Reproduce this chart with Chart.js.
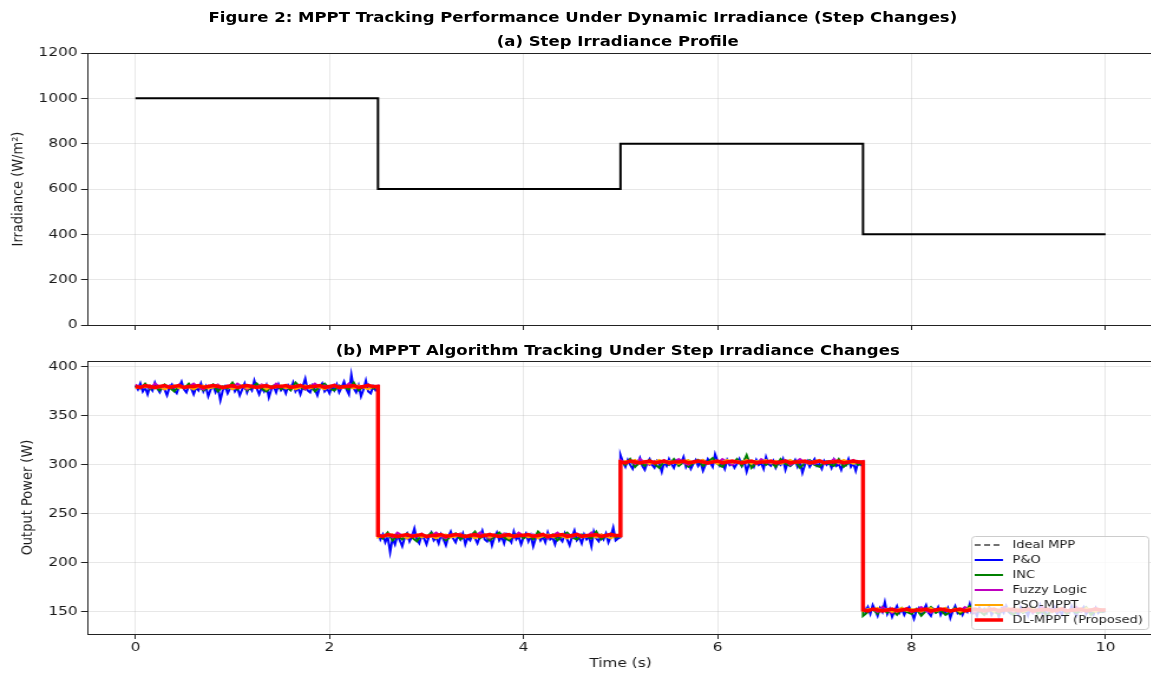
<!DOCTYPE html>
<html>
<head>
<meta charset="utf-8">
<script src="https://cdn.jsdelivr.net/npm/chart.js@4.4.1/dist/chart.umd.min.js"></script>
<style>
html, body { margin: 0; padding: 0; background: #fff; overflow: hidden; width: 1151px; height: 673px; }
#wrap { position: absolute; left: 0; top: 0; width: 1051px; height: 673px; transform: scaleX(1.18); transform-origin: 0 0; }
.ttl { position: absolute; left: 0; text-align: center; font: bold 14px "DejaVu Sans"; line-height: 16px; color: #000; white-space: nowrap; }
#suptitle { top: 9px; width: 988px; }
#titleA { top: 33px; width: 1047px; }
#titleB { top: 342px; width: 1047px; }
#irrChart { position: absolute; left: 0; top: 0; }
#powChart { position: absolute; left: 0; top: 335px; }
</style>
</head>
<body>
<div id="wrap">
  <canvas id="irrChart" width="1051" height="340"></canvas>
  <canvas id="powChart" width="1051" height="338"></canvas>
  <div class="ttl" id="suptitle">Figure 2: MPPT Tracking Performance Under Dynamic Irradiance (Step Changes)</div>
  <div class="ttl" id="titleA">(a) Step Irradiance Profile</div>
  <div class="ttl" id="titleB">(b) MPPT Algorithm Tracking Under Step Irradiance Changes</div>
</div>
<script>
// step profile
const stepTimes = [0, 2.5, 5, 7.5, 10];
const irradiance = [1000, 600, 800, 400];
const idealMpp = [380, 228, 304, 152];

// sampled output power: 4 segments, each sampled evenly from its step start to the next step
const segStart = [0, 2.5, 5, 7.5];
const segLen = 2.5;

// P&O: 101 samples per segment
const pnoPower = [
  381, 377, 383, 375, 379, 372, 380, 376, 384, 378, 374, 380, 377, 371, 379, 382, 376, 373, 380, 385,
  377, 374, 381, 378, 372, 379, 376, 383, 375, 380, 370, 377, 381, 374, 379, 366, 376, 380, 373, 378,
  382, 375, 379, 371, 377, 383, 374, 380, 376, 386, 378, 372, 379, 375, 381, 369, 377, 380, 374, 382,
  376, 379, 373, 381, 377, 384, 375, 379, 372, 380, 388, 376, 374, 381, 377, 371, 379, 383, 375, 378,
  373, 380, 376, 382, 374, 379, 385, 377, 372, 392, 378, 374, 381, 370, 377, 386, 375, 373, 380, 376, 378,
  232, 224, 229, 221, 227, 211, 225, 219, 228, 223, 217, 226, 230, 222, 227, 235, 224, 220, 228, 225,
  219, 227, 231, 223, 226, 220, 229, 224, 218, 227, 232, 225, 221, 228, 224, 230, 219, 226, 223, 229,
  225, 220, 227, 233, 224, 222, 228, 218, 226, 231, 223, 227, 220, 229, 225, 221, 232, 224, 227, 219,
  226, 230, 222, 228, 217, 225, 229, 223, 227, 221, 231, 224, 226, 219, 228, 225, 222, 230, 224, 218,
  227, 233, 223, 226, 220, 229, 224, 227, 217, 232, 225, 222, 228, 224, 230, 221, 227, 236, 223, 225, 226,
  310, 303, 298, 305, 300, 296, 304, 301, 307, 299, 295, 302, 306, 300, 297, 304, 301, 293, 303, 299,
  306, 301, 297, 304, 300, 302, 308, 298, 303, 296, 301, 305, 299, 303, 294, 300, 306, 302, 298, 311,
  304, 299, 302, 296, 305, 300, 303, 297, 301, 306, 299, 304, 293, 301, 303, 298, 305, 300, 302, 296,
  308, 301, 299, 304, 297, 302, 300, 306, 295, 303, 299, 301, 305, 298, 303, 292, 300, 304, 298, 302,
  306, 299, 301, 296, 304, 300, 303, 297, 305, 299, 301, 295, 303, 300, 306, 298, 302, 294, 303, 300, 302,
  159, 150, 155, 148, 157, 152, 146, 154, 150, 160, 148, 153, 145, 151, 156, 149, 153, 147, 152, 155,
  150, 143, 151, 154, 148, 152, 157, 149, 146, 153, 150, 155, 147, 152, 149, 154, 144, 151, 156, 149,
  152, 147, 153, 150, 158, 148, 151, 146, 154, 150, 153, 149, 155, 147, 151, 152, 145, 153, 149, 156,
  150, 148, 153, 151, 147, 155, 150, 152, 146, 154, 149, 153, 150, 157, 148, 151, 145, 153, 150, 155,
  148, 152, 147, 154, 151, 149, 156, 150, 146, 153, 151, 155, 148, 152, 150, 147, 154, 149, 152, 150, 151
];
// the others: 51 samples per segment
const incPower = [
  381, 378, 383, 377, 380, 376, 382, 379, 375, 381, 378, 383, 377, 380, 376, 379, 382, 375, 380, 378,
  384, 377, 381, 376, 379, 383, 378, 375, 380, 382, 377, 380, 376, 384, 379, 377, 381, 375, 380, 383,
  378, 376, 381, 379, 377, 384, 376, 380, 382, 378, 380,
  229, 225, 231, 223, 228, 224, 230, 226, 222, 229, 226, 231, 225, 228, 223, 227, 230, 224, 228, 226,
  232, 225, 229, 223, 227, 231, 226, 223, 228, 230, 225, 228, 224, 232, 227, 225, 229, 223, 228, 231,
  226, 224, 229, 227, 225, 232, 224, 228, 230, 226, 228,
  304, 300, 306, 298, 303, 299, 305, 301, 297, 304, 300, 306, 299, 303, 298, 302, 305, 299, 303, 307,
  301, 298, 304, 300, 306, 299, 310, 297, 302, 305, 300, 303, 298, 306, 301, 299, 304, 297, 302, 305,
  300, 298, 303, 301, 299, 306, 298, 302, 304, 300, 302,
  146, 150, 153, 148, 155, 149, 152, 147, 154, 150, 148, 153, 146, 151, 155, 149, 152, 147, 150, 154,
  148, 152, 156, 149, 151, 147, 153, 150, 148, 155, 151, 147, 153, 149, 152, 155, 148, 151, 146, 153,
  150, 154, 148, 152, 149, 151, 155, 147, 152, 150, 151
];
const fuzzyPower = [
  382, 379, 381, 378, 383, 380, 377, 381, 379, 382, 378, 380, 383, 379, 377, 381, 380, 382, 378, 381,
  379, 383, 380, 377, 381, 379, 382, 380, 378, 383, 380, 378, 381, 379, 382, 377, 380, 383, 379, 381,
  378, 382, 380, 379, 383, 378, 381, 380, 382, 379, 381,
  230, 227, 229, 226, 231, 228, 225, 229, 227, 230, 226, 228, 231, 227, 225, 229, 228, 230, 226, 229,
  227, 231, 228, 225, 229, 227, 230, 228, 226, 231, 228, 226, 229, 227, 230, 225, 228, 231, 227, 229,
  226, 230, 228, 227, 231, 226, 229, 228, 230, 227, 229,
  305, 302, 304, 301, 306, 303, 300, 304, 302, 305, 301, 303, 306, 302, 300, 304, 303, 305, 301, 304,
  302, 306, 303, 300, 304, 302, 305, 303, 301, 306, 303, 301, 304, 302, 305, 300, 303, 306, 302, 304,
  301, 305, 303, 302, 306, 301, 304, 303, 305, 302, 304,
  154, 151, 153, 150, 155, 152, 149, 153, 151, 154, 150, 152, 155, 151, 149, 153, 152, 154, 150, 153,
  151, 155, 152, 149, 153, 151, 154, 152, 150, 155, 152, 150, 153, 151, 154, 149, 152, 155, 151, 153,
  150, 154, 152, 151, 155, 150, 153, 152, 154, 151, 153
];
const psoPower = [
  378, 380, 379, 381, 378, 380, 377, 379, 381, 378, 380, 379, 377, 380, 381, 378, 379, 381, 378, 380,
  377, 379, 381, 378, 380, 379, 381, 377, 380, 379, 381, 378, 380, 377, 379, 381, 378, 380, 379, 377,
  380, 381, 378, 379, 380, 378, 381, 379, 377, 380, 379,
  226, 228, 227, 229, 226, 228, 225, 227, 229, 226, 228, 227, 225, 228, 229, 226, 227, 229, 226, 228,
  225, 227, 229, 226, 228, 227, 229, 225, 228, 227, 229, 226, 228, 225, 227, 229, 226, 228, 227, 225,
  228, 229, 226, 227, 228, 226, 229, 227, 225, 228, 227,
  302, 304, 303, 305, 302, 304, 301, 303, 305, 302, 304, 303, 301, 304, 305, 302, 303, 305, 302, 304,
  301, 303, 305, 302, 304, 303, 305, 301, 304, 303, 305, 302, 304, 301, 303, 305, 302, 304, 303, 301,
  304, 305, 302, 303, 304, 302, 305, 303, 301, 304, 303,
  151, 153, 152, 154, 151, 153, 150, 152, 154, 151, 153, 152, 150, 153, 154, 151, 152, 154, 151, 153,
  150, 152, 154, 151, 153, 152, 154, 150, 153, 152, 154, 151, 153, 150, 152, 154, 151, 153, 152, 150,
  153, 154, 151, 152, 153, 151, 154, 152, 150, 153, 152
];
const dlPower = [
  380, 379, 381, 380, 379, 380, 381, 379, 380, 381, 379, 380, 380, 381, 379, 380, 381, 380, 379, 380,
  381, 379, 380, 381, 380, 379, 380, 381, 379, 380, 380, 381, 379, 380, 381, 379, 380, 380, 381, 379,
  380, 381, 379, 380, 380, 381, 379, 380, 381, 380, 380,
  228, 227, 229, 228, 227, 228, 229, 227, 228, 229, 227, 228, 228, 229, 227, 228, 229, 228, 227, 228,
  229, 227, 228, 229, 228, 227, 228, 229, 227, 228, 228, 229, 227, 228, 229, 227, 228, 228, 229, 227,
  228, 229, 227, 228, 228, 229, 227, 228, 229, 228, 228,
  303, 302, 304, 303, 302, 303, 304, 302, 303, 304, 302, 303, 303, 304, 302, 303, 304, 303, 302, 303,
  304, 302, 303, 304, 303, 302, 303, 304, 302, 303, 303, 304, 302, 303, 304, 302, 303, 303, 304, 302,
  303, 304, 302, 303, 303, 304, 302, 303, 304, 303, 303,
  152, 151, 153, 152, 151, 152, 153, 151, 152, 153, 151, 152, 152, 153, 151, 152, 153, 152, 151, 152,
  153, 151, 152, 153, 152, 151, 152, 153, 151, 152, 152, 153, 151, 152, 153, 151, 152, 152, 153, 151,
  152, 153, 151, 152, 152, 153, 151, 152, 153, 152, 152
];

const irrTicks = [0, 200, 400, 600, 800, 1000, 1200];
const powTicks = [150, 200, 250, 300, 350, 400];
const timeTicks = [0, 2, 4, 6, 8, 10];

const FONT = 'DejaVu Sans';
const INK = '#1a1a1a';
const GRID = 'rgba(176,176,176,0.3)';

function samplesToPoints(values) {
  const perSeg = values.length / segStart.length;
  const dt = segLen / (perSeg - 1);
  return values.map((v, i) => ({ x: segStart[Math.floor(i / perSeg)] + (i % perSeg) * dt, y: v }));
}

function stepToPoints(levels) {
  const pts = [];
  levels.forEach((v, i) => {
    pts.push({ x: stepTimes[i], y: v });
    pts.push({ x: stepTimes[i + 1], y: v });
  });
  return pts;
}

// frame round the plot area like matplotlib spines
const spines = {
  id: 'spines',
  afterDatasetsDraw(chart) {
    const a = chart.chartArea, c = chart.ctx;
    c.save();
    c.strokeStyle = '#222';
    c.lineWidth = 1;
    c.strokeRect(Math.round(a.left) + 0.5, Math.round(a.top) + 0.5, Math.round(a.right - a.left), Math.round(a.bottom - a.top));
    c.restore();
  }
};

// legend box in lower right corner of plot (b)
const boxLegend = {
  id: 'boxLegend',
  afterDraw(chart) {
    const a = chart.chartArea, c = chart.ctx;
    const w = 150, h = 93;
    const x0 = a.right - 5 - w, y0 = a.bottom - 5 - h;
    c.save();
    c.fillStyle = 'rgba(255,255,255,0.8)';
    c.strokeStyle = '#cccccc';
    c.lineWidth = 1;
    c.beginPath();
    c.roundRect(x0 + 0.5, y0 + 0.5, w, h, 3);
    c.fill();
    c.stroke();
    const items = chart.data.datasets.slice().sort((p, q) => q.order - p.order);
    c.font = '11px "' + FONT + '"';
    c.textBaseline = 'middle';
    items.forEach((ds, i) => {
      const y = y0 + 9 + i * 15;
      c.strokeStyle = ds.borderColor;
      c.lineWidth = ds.borderWidth;
      c.setLineDash(ds.borderDash || []);
      c.beginPath();
      c.moveTo(x0 + 3, y);
      c.lineTo(x0 + 27, y);
      c.stroke();
      c.setLineDash([]);
      c.fillStyle = INK;
      c.fillText(ds.label, x0 + 35, y + 0.5);
    });
    c.restore();
  }
};

function yAxis(ticks, min, max, title, titlePad) {
  return {
    type: 'linear', min: min, max: max,
    afterFit(s) { s.width = 73.7; },
    afterBuildTicks(s) { s.ticks = ticks.map(v => ({ value: v })); },
    ticks: { color: INK, font: { family: FONT, size: 13 }, padding: 3, callback: v => String(v) },
    grid: { color: GRID, lineWidth: 1, tickColor: '#222', tickLength: 5, drawTicks: true },
    border: { display: false },
    title: { display: true, text: title, color: INK, font: { family: FONT, size: 13 }, padding: { top: titlePad, bottom: 0 } }
  };
}

function xAxis(showLabels, height) {
  return {
    type: 'linear', min: -0.5, max: 10.5,
    afterFit(s) { s.height = height; },
    afterBuildTicks(s) { s.ticks = timeTicks.map(v => ({ value: v })); },
    ticks: { display: showLabels, color: INK, font: { family: FONT, size: 13 }, padding: 1, maxRotation: 0, callback: v => String(v) },
    grid: { color: GRID, lineWidth: 1, tickColor: '#222', tickLength: 5, drawTicks: true },
    border: { display: false },
    title: { display: showLabels, text: 'Time (s)', color: INK, font: { family: FONT, size: 13 }, padding: { top: 0, bottom: 2 } }
  };
}

new Chart(document.getElementById('irrChart'), {
  type: 'line',
  data: {
    datasets: [{
      label: 'Irradiance',
      data: stepToPoints(irradiance),
      borderColor: '#000',
      borderWidth: 2,
      pointRadius: 0,
      fill: false,
      tension: 0
    }]
  },
  options: {
    responsive: false,
    animation: false,
    devicePixelRatio: 1,
    layout: { padding: { left: 0, right: 73, top: 53, bottom: 0 } },
    scales: {
      x: xAxis(false, 15),
      y: yAxis(irrTicks, 0, 1200, 'Irradiance (W/m²)', 8)
    },
    plugins: {
      legend: { display: false },
      tooltip: { enabled: false },
      title: { display: false }
    }
  },
  plugins: [spines]
});

new Chart(document.getElementById('powChart'), {
  type: 'line',
  data: {
    datasets: [
      { label: 'Ideal MPP', data: stepToPoints(idealMpp), borderColor: '#444444', borderWidth: 1.5, borderDash: [5, 3], order: 5 },
      { label: 'P&O', data: samplesToPoints(pnoPower), borderColor: '#0000ff', borderWidth: 2, order: 4 },
      { label: 'INC', data: samplesToPoints(incPower), borderColor: '#008000', borderWidth: 2, order: 3 },
      { label: 'Fuzzy Logic', data: samplesToPoints(fuzzyPower), borderColor: '#bf00bf', borderWidth: 2, order: 2 },
      { label: 'PSO-MPPT', data: samplesToPoints(psoPower), borderColor: '#ffa500', borderWidth: 2, order: 1 },
      { label: 'DL-MPPT (Proposed)', data: samplesToPoints(dlPower), borderColor: '#ff0000', borderWidth: 3.5, order: 0 }
    ]
  },
  options: {
    responsive: false,
    animation: false,
    devicePixelRatio: 1,
    elements: { point: { radius: 0 }, line: { tension: 0, fill: false } },
    layout: { padding: { left: 0, right: 73, top: 26, bottom: 0 } },
    scales: {
      x: xAxis(true, 39),
      y: yAxis(powTicks, 127.5, 406, 'Output Power (W)', 16)
    },
    plugins: {
      legend: { display: false },
      tooltip: { enabled: false },
      title: { display: false }
    }
  },
  plugins: [spines, boxLegend]
});
</script>
</body>
</html>
